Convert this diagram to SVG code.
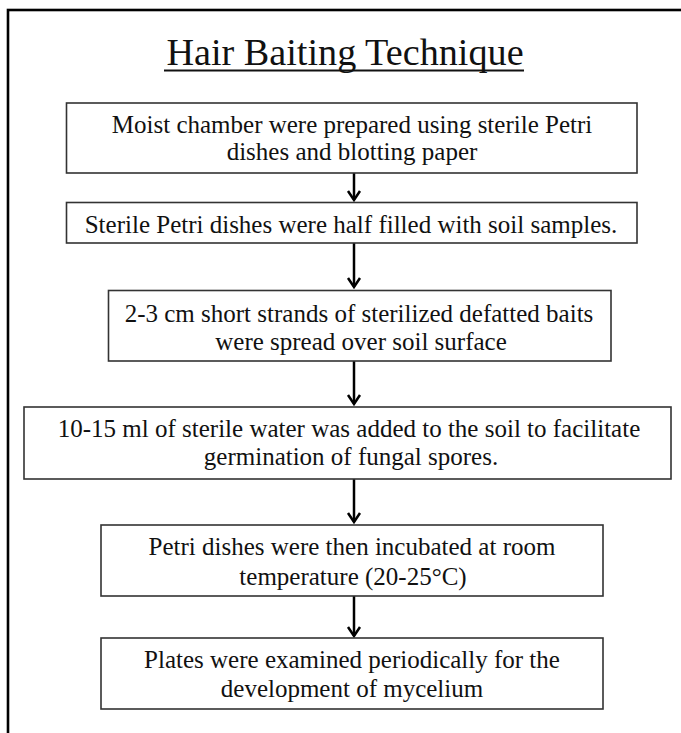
<svg xmlns="http://www.w3.org/2000/svg" width="681" height="733" viewBox="0 0 681 733">
  <style>
    .box { fill: #ffffff; stroke: #333333; stroke-width: 1.6; }
    .txt { font-family: "Liberation Serif", "Times New Roman", serif; font-size: 25px; fill: #111111; text-anchor: middle; }
    .title { font-family: "Liberation Serif", "Times New Roman", serif; font-size: 38.2px; fill: #111111; text-anchor: middle; }
    .conn { stroke: #000000; stroke-width: 2.5; fill: none; }
  </style>
  <defs>
    <marker id="ah" viewBox="-12 -8 14 16" refX="0" refY="0" markerWidth="14" markerHeight="16" markerUnits="userSpaceOnUse" orient="auto">
      <path d="M-9,-6 L0,0 L-9,6" fill="none" stroke="#000000" stroke-width="2.5"/>
    </marker>
  </defs>
  <rect x="0" y="0" width="681" height="733" fill="#ffffff"/>
  <g id="frame">
    <rect x="8" y="10" width="720" height="760" fill="none" stroke="#000000" stroke-width="2.6"/>
  </g>
  <g id="title">
    <text class="title" x="345" y="65">Hair Baiting Technique</text>
    <line x1="164" y1="70.5" x2="524" y2="70.5" stroke="#111111" stroke-width="2"/>
  </g>
  <g id="connectors">
    <line class="conn" x1="354" y1="173" x2="354" y2="200" marker-end="url(#ah)"/>
    <line class="conn" x1="354" y1="243" x2="354" y2="287" marker-end="url(#ah)"/>
    <line class="conn" x1="354" y1="361" x2="354" y2="404" marker-end="url(#ah)"/>
    <line class="conn" x1="354" y1="479" x2="354" y2="522" marker-end="url(#ah)"/>
    <line class="conn" x1="354" y1="596" x2="354" y2="636" marker-end="url(#ah)"/>
  </g>
  <g id="node1">
    <rect class="box" x="66.5" y="103" width="570.5" height="70"/>
    <text class="txt" x="352" y="133">Moist chamber were prepared using sterile Petri</text>
    <text class="txt" x="352" y="160">dishes and blotting paper</text>
  </g>
  <g id="node2">
    <rect class="box" x="66.5" y="202.5" width="570.5" height="40.5"/>
    <text class="txt" x="351" y="233">Sterile Petri dishes were half filled with soil samples.</text>
  </g>
  <g id="node3">
    <rect class="box" x="108.5" y="290.5" width="502.5" height="70.5"/>
    <text class="txt" x="359" y="322">2-3 cm  short strands of sterilized defatted baits</text>
    <text class="txt" x="361" y="350">were spread over soil surface</text>
  </g>
  <g id="node4">
    <rect class="box" x="24" y="407" width="647" height="72"/>
    <text class="txt" x="349" y="437">10-15 ml of sterile water was added to the soil to facilitate</text>
    <text class="txt" x="351" y="465">germination of fungal spores.</text>
  </g>
  <g id="node5">
    <rect class="box" x="101" y="525" width="502" height="71"/>
    <text class="txt" x="352" y="555">Petri dishes were then incubated at room</text>
    <text class="txt" x="353" y="585">temperature (20-25°C)</text>
  </g>
  <g id="node6">
    <rect class="box" x="101" y="638" width="502" height="71"/>
    <text class="txt" x="352" y="668">Plates were examined  periodically for the</text>
    <text class="txt" x="352" y="697">development of mycelium</text>
  </g>
</svg>
